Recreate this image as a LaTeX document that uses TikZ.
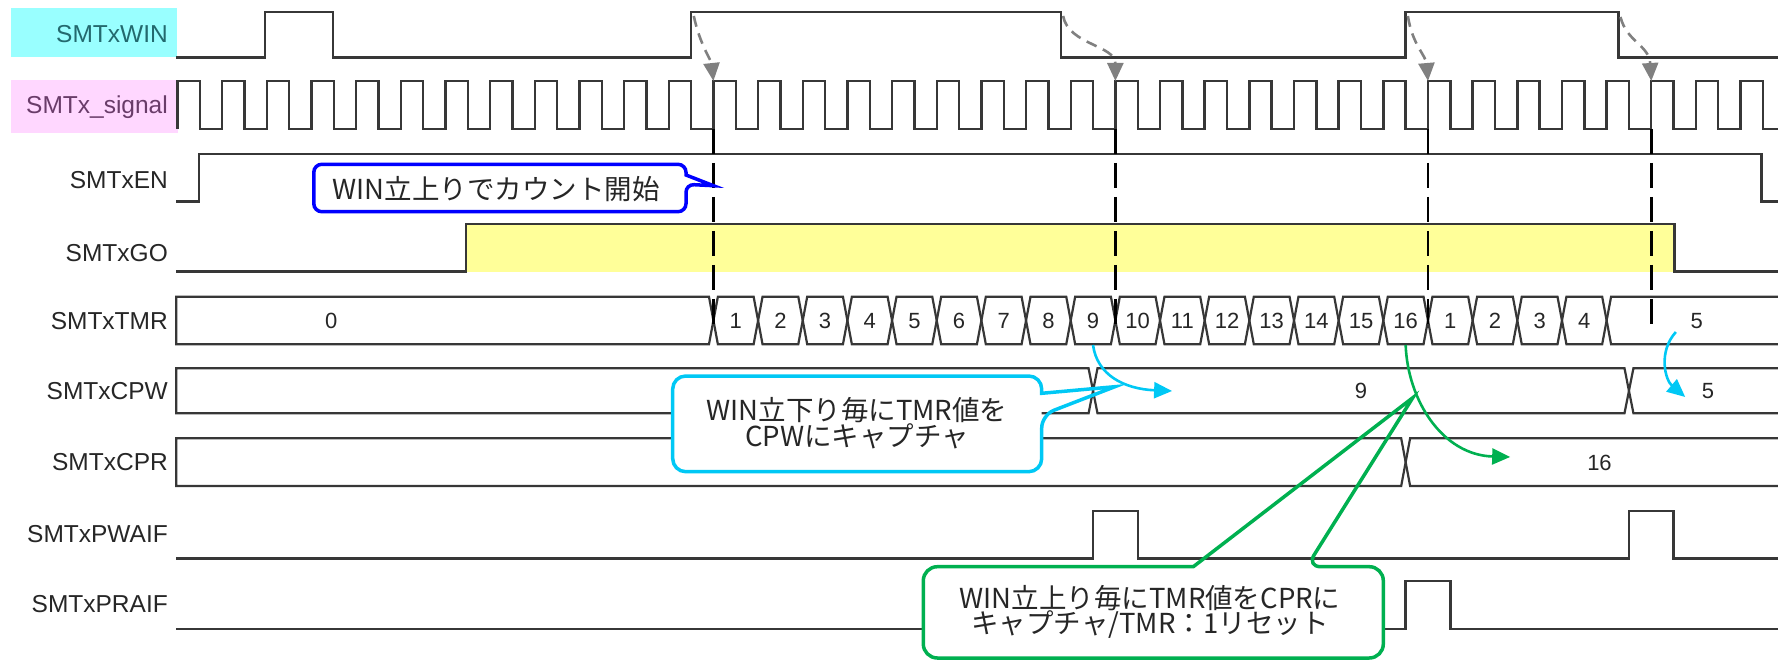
\documentclass[tikz,border=0pt]{standalone}
\usepackage{fontspec}
\setmainfont{Liberation Sans}
\newfontfamily\jpfont{Noto Sans CJK JP}
\usetikzlibrary{arrows.meta}

\definecolor{winbg}{RGB}{153,255,255}
\definecolor{sigbg}{RGB}{255,215,255}
\definecolor{winfg}{RGB}{35,105,110}
\definecolor{sigfg}{RGB}{105,60,105}
\definecolor{goyel}{RGB}{255,255,153}
\definecolor{wire}{RGB}{55,55,55}
\definecolor{callB}{RGB}{0,0,255}
\definecolor{callC}{RGB}{0,200,245}
\definecolor{callG}{RGB}{0,176,80}

\newcommand{\wEnd}{35.9}
\newcommand{\xGap}{0.1}

\begin{document}
\begin{tikzpicture}[
    x=1pt, y=-1pt,
    sig/.style={anchor=east, inner sep=0pt, text height=17.5pt, text depth=0pt, font=\fontsize{24.5}{26}\selectfont, text=black!85},
    val/.style={inner sep=0pt, text height=15.8pt, text depth=0pt, font=\fontsize{22}{24}\selectfont, text=black!85},
    wave/.style={draw=wire, line width=2.4pt},
    bus/.style={draw=wire, line width=2.2pt},
    edgeln/.style={black, line width=2.6pt, dash pattern=on 25pt off 9pt},
    hint/.style={draw=black!50, line width=2.6pt, dash pattern=on 11pt off 7pt, -{Triangle[length=18pt,width=16pt]}},
    callout/.style={line width=3.5pt},
    note/.style={align=center, inner sep=0pt, text=black!85, font=\jpfont\fontsize{27.5}{25.5}\selectfont},
    grab/.style={line width=2.6pt, -{Triangle[length=18pt,width=16pt]}}
]
    \useasboundingbox (0,0) rectangle (1778,660);

    % --- 1. SIGNAL NAMES ---
    \fill[winbg] (11,8) rectangle (177,57);
    \fill[sigbg] (11,80) rectangle (178,133);
    \node[sig, text=winfg] (lWIN) at (168,33.3) {SMTxWIN};
    \node[sig, text=sigfg] (lSIG) at (168,105) {SMTx\_signal};
    \node[sig] (lEN) at (168,180) {SMTxEN};
    \node[sig] (lGO) at (168,253) {SMTxGO};
    \node[sig] (lTMR) at (168,320.5) {SMTxTMR};
    \node[sig] (lCPW) at (168,390.5) {SMTxCPW};
    \node[sig] (lCPR) at (168,462) {SMTxCPR};
    \node[sig] (lPWA) at (168,533.3) {SMTxPWAIF};
    \node[sig] (lPRA) at (168,603.3) {SMTxPRAIF};

    % --- 2. WAVES (x in clock periods) ---
    \begin{scope}[shift={(177.5,0)}, x=44.66pt]
    \fill[goyel] (6.46,224) rectangle (33.52,271.7);

    \draw[wave] (-0.03,57.5) -- (1.96,57.5) -- (1.96,12) -- (3.48,12) -- (3.48,57.5)
        -- (11.5,57.5) -- (11.5,12) -- (19.78,12) -- (19.78,57.5)
        -- (27.5,57.5) -- (27.5,12) -- (32.27,12) -- (32.27,57.5) -- (\wEnd,57.5);
    \draw[wave] (0,129) \foreach \k in {0,...,35} { -- (\k,129) -- (\k,81) -- (\k+0.5,81) -- (\k+0.5,129) } -- (\wEnd,129);
    \draw[wave] (-0.03,201.7) -- (0.48,201.7) -- (0.48,154) -- (35.47,154) -- (35.47,201.7) -- (\wEnd,201.7);
    \draw[wave] (-0.03,271.7) -- (6.46,271.7) -- (6.46,224) -- (33.52,224) -- (33.52,271.7) -- (\wEnd,271.7);
    \draw[wave] (-0.03,558.3) -- (20.5,558.3) -- (20.5,510.7) -- (21.5,510.7) -- (21.5,558.3)
        -- (32.5,558.3) -- (32.5,510.7) -- (33.5,510.7) -- (33.5,558.3) -- (\wEnd,558.3);
    \draw[wave] (-0.03,629) -- (27.5,629) -- (27.5,580.7) -- (28.5,580.7) -- (28.5,629) -- (\wEnd,629);

    % TMR
    \draw[bus] (-0.03,296.7) -- (12-\xGap,296.7) -- (12,320.5) -- (12-\xGap,344.3) -- (-0.03,344.3) -- cycle;
    \node[val] (tmr0) at (3.44,320.5) {0};
    \foreach \v [count=\i from 12] in {1,2,3,4,5,6,7,8,9,10,11,12,13,14,15,16,1,2,3,4} {
        \draw[bus] (\i,320.5) -- (\i+\xGap,296.7) -- (\i+1-\xGap,296.7) -- (\i+1,320.5)
            -- (\i+1-\xGap,344.3) -- (\i+\xGap,344.3) -- cycle;
        \node[val] (tmr\i) at (\i+0.5,320.5) {\v};
    }
    \draw[bus] (\wEnd,296.7) -- (32+\xGap,296.7) -- (32,320.5) -- (32+\xGap,344.3) -- (\wEnd,344.3);
    \node[val] (tmr32) at (34.02,320.5) {5};

    % CPW
    \draw[bus] (-0.03,368.3) -- (20.5-\xGap,368.3) -- (20.5,390.8) -- (20.5-\xGap,413.3) -- (-0.03,413.3) -- cycle;
    \draw[bus] (20.5,390.8) -- (20.5+\xGap,368.3) -- (32.5-\xGap,368.3) -- (32.5,390.8)
        -- (32.5-\xGap,413.3) -- (20.5+\xGap,413.3) -- cycle;
    \draw[bus] (\wEnd,368.3) -- (32.5+\xGap,368.3) -- (32.5,390.8) -- (32.5+\xGap,413.3) -- (\wEnd,413.3);
    \node[val] (cpw9) at (26.5,390.8) {9};
    \node[val] (cpw5) at (34.27,390.8) {5};

    % CPR
    \draw[bus] (-0.03,438.3) -- (27.5-\xGap,438.3) -- (27.5,462.2) -- (27.5-\xGap,486) -- (-0.03,486) -- cycle;
    \draw[bus] (\wEnd,438.3) -- (27.5+\xGap,438.3) -- (27.5,462.2) -- (27.5+\xGap,486) -- (\wEnd,486);
    \node[val] (cpr16) at (31.84,462.2) {16};

    % capture edges
    \foreach \k in {12,21,28,33}
        \draw[edgeln] (\k,129) -- (\k,324);

    % WIN edge -> signal edge
    \coordinate (w1) at (11.56,16);  \coordinate (s1) at (12,81);
    \coordinate (w2) at (19.83,16);  \coordinate (s2) at (21,81);
    \coordinate (w3) at (27.55,16);  \coordinate (s3) at (28,81);
    \coordinate (w4) at (32.31,17);  \coordinate (s4) at (33,81);
    \draw[hint] (w1) .. controls (11.7,45) and (11.95,60) .. (s1);
    \draw[hint] (w2) .. controls (19.95,45) and (21,45) .. (s2);
    \draw[hint] (w3) .. controls (27.65,45) and (27.95,55) .. (s3);
    \draw[hint] (w4) .. controls (32.45,42) and (32.95,45) .. (s4);

    % tips of the callouts
    \coordinate (tipB) at (12,185.7);
    \coordinate (tipC) at (20.99,386.7);
    \coordinate (tipG) at (27.66,397.7);

    % capture arrows
    \coordinate (c9) at (20.5,345);   \coordinate (c9e) at (22.27,391);
    \coordinate (c5) at (33.55,332);  \coordinate (c5e) at (33.76,397);
    \coordinate (c16) at (27.5,345);  \coordinate (c16e) at (29.84,457);
    \end{scope}

    % --- 3. CALLOUTS ---
    \fill[white, rounded corners=8pt] (313.8,164.3) rectangle (686,211.7);
    \draw[callB, callout] (686,175) [rounded corners=8pt] -- (686,164.3) -- (313.8,164.3) -- (313.8,211.7)
        -- (686,211.7) -- (686,184.3) [sharp corners] -- (tipB) -- cycle;
    \node[note] (noteB) at (496,189.5) {WIN立上りでカウント開始};

    \fill[white, rounded corners=13pt] (672.7,376) rectangle (1041.7,471.7);
    \draw[callC, callout] (1041.7,393.3) [rounded corners=13pt] -- (1041.7,376) -- (672.7,376) -- (672.7,471.7)
        -- (1041.7,471.7) -- (1041.7,415) [sharp corners] -- (tipC) -- cycle;
    \node[note] (noteC) at (857,423) {WIN立下り毎にTMR値を\\CPWにキャプチャ};

    \fill[white, rounded corners=14pt] (923.3,566.7) rectangle (1383.3,658);
    \draw[callG, callout] (1193.3,566.7) [rounded corners=14pt] -- (923.3,566.7) -- (923.3,658) -- (1383.3,658)
        -- (1383.3,566.7) -- (1306.7,566.7) [sharp corners] -- (tipG) -- cycle;
    \node[note] (noteG) at (1150,612) {WIN立上り毎にTMR値をCPRに\\キャプチャ/TMR：1リセット};

    % --- 4. CAPTURE ARROWS ---
    \draw[grab, callC] (c9) .. controls ++(4,30) and ++(-48,-2) .. (c9e);
    \draw[grab, callC] (c5) .. controls ++(-18,20) and ++(-20,-17) .. (c5e);
    \draw[grab, callG] (c16) .. controls ++(2,55) and ++(-68,-2) .. (c16e);
\end{tikzpicture}
\end{document}
